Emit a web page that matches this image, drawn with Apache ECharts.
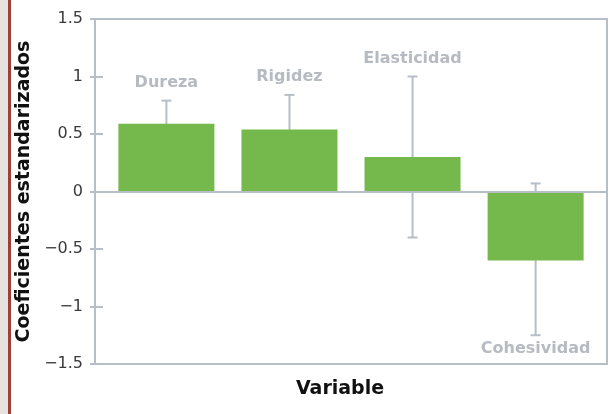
<!DOCTYPE html>
<html>
<head>
<meta charset="utf-8">
<script src="https://cdn.jsdelivr.net/npm/echarts@6/dist/echarts.min.js"></script>
<style>
  html, body { margin: 0; padding: 0; background: #ffffff; }
  #wrap { position: relative; width: 614px; height: 414px; overflow: hidden; }
  #chart { position: absolute; left: 0; top: 0; width: 614px; height: 414px; }
  #strip { position: absolute; left: 0; top: 0; width: 8px; height: 414px; background: #e6e3de; z-index: 5; }
  #rule { position: absolute; left: 8px; top: 0; width: 3px; height: 414px; background: #9e3f3a; z-index: 5; }
</style>
</head>
<body>
<div id="wrap">
  <div id="chart"></div>
  <div id="strip"></div>
  <div id="rule"></div>
</div>
<script>
// Standardized coefficients per texture variable, with confidence interval bounds
const variables = ['Dureza', 'Rigidez', 'Elasticidad', 'Cohesividad'];
const coefficients = [0.59, 0.54, 0.30, -0.60];
const errorLow = [0.40, 0.24, -0.40, -1.25];
const errorHigh = [0.79, 0.84, 1.00, 0.07];

const GRAY = '#b7bec6';
const FONT = 'DejaVu Sans';

const barData = coefficients.map((v, i) => [i, v]);
const errData = variables.map((name, i) => [i, errorLow[i], errorHigh[i], coefficients[i]]);

const chart = echarts.init(document.getElementById('chart'), null, { renderer: 'canvas' });

chart.setOption({
  animation: false,
  grid: {
    left: 95, right: 7, top: 19, bottom: 50,
    show: true, borderColor: GRAY, borderWidth: 2, backgroundColor: 'transparent'
  },
  xAxis: {
    type: 'value', min: -0.58, max: 3.58,
    axisLine: { show: false, onZero: false }, axisTick: { show: false },
    axisLabel: { show: false }, splitLine: { show: false },
    name: 'Variable', nameLocation: 'middle', nameGap: 16,
    nameTextStyle: {
      fontFamily: FONT, fontWeight: 'bold', fontSize: 19, color: '#111111',
      padding: [0, 22, 0, 0]
    }
  },
  yAxis: [
    {
      type: 'value', min: -1.5, max: 1.5, interval: 0.5,
      axisLine: { show: true, onZero: false, lineStyle: { color: GRAY, width: 2 } },
      axisTick: { show: true, inside: false, length: 5, lineStyle: { color: GRAY, width: 2 } },
      splitLine: { show: false },
      axisLabel: {
        margin: 12, fontFamily: FONT, fontSize: 16, color: '#3a3a3a',
        formatter: v => String(v).replace('-', '\u2212')
      },
      name: 'Coeficientes estandarizados', nameLocation: 'middle', nameRotate: 90, nameGap: 60,
      nameTextStyle: { fontFamily: FONT, fontWeight: 'bold', fontSize: 19, color: '#111111' }
    },
    {
      type: 'value', min: -1.5, max: 1.5, interval: 0.5, position: 'left',
      axisLine: { show: false, onZero: false },
      axisTick: { show: true, inside: true, length: 8, lineStyle: { color: GRAY, width: 2 } },
      axisLabel: { show: false }, splitLine: { show: false }
    }
  ],
  series: [
    {
      type: 'custom',
      z: 1,
      data: errData,
      renderItem: function (params, api) {
        const x = api.value(0);
        const lo = api.coord([x, api.value(1)]);
        const hi = api.coord([x, api.value(2)]);
        const val = api.value(3);
        const cap = 5;
        const name = variables[params.dataIndex];
        const labelY = val >= 0 ? hi[1] - 18 : lo[1] + 14;
        const style = { stroke: GRAY, lineWidth: 2 };
        return {
          type: 'group',
          children: [
            { type: 'line', shape: { x1: hi[0], y1: hi[1], x2: lo[0], y2: lo[1] }, style },
            { type: 'line', shape: { x1: hi[0] - cap, y1: hi[1], x2: hi[0] + cap, y2: hi[1] }, style },
            { type: 'line', shape: { x1: lo[0] - cap, y1: lo[1], x2: lo[0] + cap, y2: lo[1] }, style },
            {
              type: 'text',
              style: {
                x: hi[0], y: labelY, text: name,
                fill: '#b6bbc1', font: 'bold 16px "' + FONT + '"',
                align: 'center', verticalAlign: 'middle'
              }
            }
          ]
        };
      }
    },
    {
      type: 'bar',
      z: 2,
      barWidth: 96,
      data: barData,
      itemStyle: { color: '#75b84c' },
      markLine: {
        silent: true, symbol: 'none', label: { show: false },
        lineStyle: { color: GRAY, width: 2, type: 'solid' },
        data: [{ yAxis: 0 }]
      }
    }
  ]
});
</script>
</body>
</html>
